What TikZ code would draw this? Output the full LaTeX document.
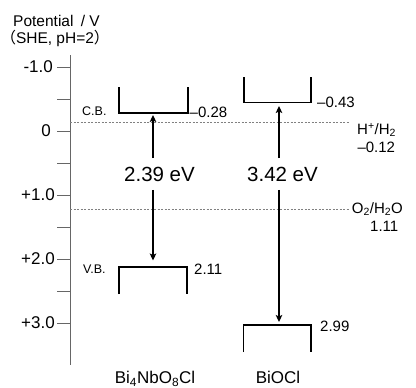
\documentclass[tikz,border=0pt]{standalone}
\usepackage{fontspec}
\setmainfont{Liberation Sans}
\newfontfamily\cjk{Noto Sans CJK JP}
\usetikzlibrary{arrows.meta}
\begin{document}
\begin{tikzpicture}[x=1pt,y=-1pt,
  axisline/.style={draw=black!60, line width=0.9pt},
  band/.style={draw=black, line width=1.1pt},
  refline/.style={draw=black!50, dash pattern=on 2pt off 1.5pt, line width=0.8pt},
  gaparrow/.style={line width=1.6pt, -{Stealth[length=7pt,width=6.5pt,inset=1.5pt]}},
  ticklabel/.style={font=\fontsize{17}{18}\selectfont, anchor=east, inner sep=0pt},
  vallabel/.style={font=\fontsize{15}{16}\selectfont, inner sep=0pt},
  reflabel/.style={font=\fontsize{15}{16}\selectfont, inner sep=0pt, anchor=base west},
  bandlabel/.style={font=\fontsize{12.5}{13}\selectfont, inner sep=0pt, anchor=base west},
  gaplabel/.style={font=\fontsize{20.5}{22}\selectfont, inner xsep=0pt, inner ysep=8.5pt},
  matlabel/.style={font=\fontsize{17}{18}\selectfont, inner sep=0pt, anchor=base},
  titlelabel/.style={font=\fontsize{15.5}{17}\selectfont, inner sep=0pt, anchor=base}]
\useasboundingbox (0,0) rectangle (416,388);

% axis title
\node[titlelabel] (title1) at (56.5,26.7) {Potential\hspace{3pt} / V};
\node[titlelabel] (title2) at (55,44) {{\cjk （}SHE, pH=2{\cjk ）}};

% axis
\coordinate (axtop) at (70,55);
\coordinate (axbot) at (70,365);
\draw[axisline] (axtop) -- (axbot);
\foreach \yy in {67,99,131,163,195,227,259,291,323}
  \draw[axisline] (57,\yy) -- (70,\yy);
\node[ticklabel] (tm1) at (53,67) {-1.0};
\node[ticklabel] (t0) at (51,131) {0};
\node[ticklabel] (t1) at (55,195) {+1.0};
\node[ticklabel] (t2) at (55,259) {+2.0};
\node[ticklabel] (t3) at (55,323) {+3.0};

% reference lines
\coordinate (hA) at (70,122);
\coordinate (hB) at (350,122);
\coordinate (oA) at (70,209);
\coordinate (oB) at (350,209);
\draw[refline] (hA) -- (hB);
\draw[refline] (oA) -- (oB);
\node[reflabel] (hlab) at (357,134.3) {H\textsuperscript{+}/H\textsubscript{2}};
\node[reflabel] (hval) at (357.3,152.7) {–0.12};
\node[reflabel] (olab) at (351.7,213.3) {O\textsubscript{2}/H\textsubscript{2}O};
\node[reflabel] (oval) at (370,231.7) {1.11};

% Bi4NbO8Cl bands
\draw[band] (119,87) -- (119,113) -- (188,113) -- (188,87);
\coordinate (cbA) at (153,113);
\draw[band] (119,294) -- (119,267) -- (187,267) -- (187,294);
\coordinate (vbA) at (153,267);
\node[vallabel, anchor=west] (cbAval) at (189.5,112.5) {–0.28};
\node[vallabel, anchor=west] (vbAval) at (194,269.5) {2.11};
\node[bandlabel] (cblab) at (82,115) {C.B.};
\node[bandlabel] (vblab) at (83,273.3) {V.B.};

% BiOCl bands
\draw[band] (244,77) -- (244,102.5) -- (311,102.5) -- (311,77);
\coordinate (cbB) at (279,102.5);
\draw[band] (243.5,352) -- (243.5,325) -- (311,325) -- (311,352);
\coordinate (vbB) at (279,325);
\node[vallabel, anchor=west] (cbBval) at (317,102) {–0.43};
\node[vallabel, anchor=west] (vbBval) at (320,326) {2.99};

% gaps
\node[gaplabel] (gA) at (159.5,174) {2.39 eV};
\node[gaplabel] (gB) at (282.5,174) {3.42 eV};
\draw[gaparrow, shorten >=2pt] (cbA |- gA.north) -- (cbA);
\draw[gaparrow, shorten >=6.5pt] (vbA |- gA.south) -- (vbA);
\draw[gaparrow, shorten >=3.5pt] (cbB |- gB.north) -- (cbB);
\draw[gaparrow, shorten >=3pt] (vbB |- gB.south) -- (vbB);

% material names
\node[matlabel] (matA) at (155,383.5) {Bi\textsubscript{4}NbO\textsubscript{8}Cl};
\node[matlabel] (matB) at (278,383.5) {BiOCl};
\end{tikzpicture}
\end{document}
